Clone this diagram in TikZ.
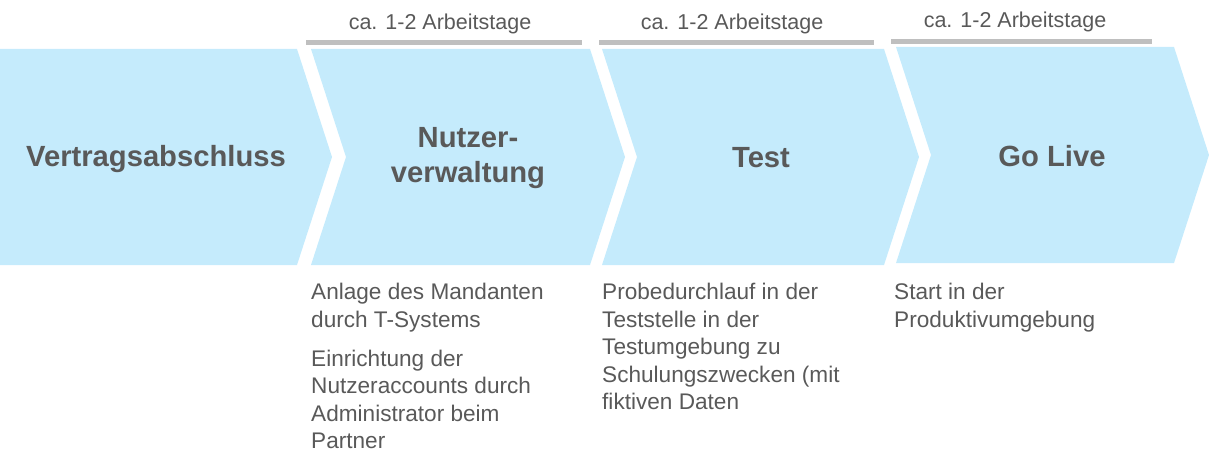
\documentclass[tikz,border=0pt]{standalone}
\usepackage{fontspec}
\setmainfont{Liberation Sans}
\usetikzlibrary{positioning}
\definecolor{chevblue}{RGB}{197,235,252}
\definecolor{textgray}{RGB}{89,89,89}
\definecolor{bargray}{RGB}{191,191,191}
\tikzset{
  chev/.style={fill=chevblue},
  phase/.style={font=\bfseries\fontsize{29.2}{35}\selectfont,text=textgray,align=center,inner sep=0pt},
  durbar/.style={draw=bargray,line width=5pt},
  dur/.style={font=\fontsize{21.5}{26}\selectfont,text=textgray,anchor=base,inner sep=0pt},
  note/.style={font=\fontsize{22.6}{27.5}\selectfont,text=textgray,align=left,anchor=north west,inner sep=0pt}
}

\begin{document}
\begin{tikzpicture}[x=1pt,y=-1pt]
\useasboundingbox (0,0) rectangle (1209,468);
% chevrons
\fill[chev] (0,49) -- (297,49) -- (332,157) -- (297,265) -- (0,265) -- cycle;
\fill[chev] (311,49) -- (590,49) -- (625,157) -- (590,265) -- (311,265) -- (346,157) -- cycle;
\fill[chev] (602,49) -- (884,49) -- (919,157) -- (884,265) -- (602,265) -- (637,157) -- cycle;
\fill[chev] (896,47) -- (1174,47) -- (1209,155) -- (1174,263) -- (896,263) -- (931,155) -- cycle;
% phase titles
\node[phase,anchor=base] (vertrag) at (156,166) {Vertragsabschluss};
\node[phase] (nutzer) at (468,158) {Nutzer-\\verwaltung};
\node[phase,anchor=base] (test) at (761,167) {Test};
\node[phase,anchor=base] (golive) at (1052,166) {Go Live};
% durations
\coordinate (b1l) at (306,43);
\coordinate (b1r) at (582,43);
\coordinate (b2l) at (599,43);
\coordinate (b2r) at (874,43);
\coordinate (b3l) at (891,42);
\coordinate (b3r) at (1152,42);
\draw[durbar] (b1l) -- (b1r);
\draw[durbar] (b2l) -- (b2r);
\draw[durbar] (b3l) -- (b3r);
\node[dur] (dur1) at (440,30) {ca. 1-2 Arbeitstage};
\node[dur] (dur2) at (732,30) {ca. 1-2 Arbeitstage};
\node[dur] (dur3) at (1015,28) {ca. 1-2 Arbeitstage};
% notes below
\node[note] (nutzernote) at (311,283) {Anlage des Mandanten\\durch T-Systems\\[11.5pt]Einrichtung der\\Nutzeraccounts durch\\Administrator beim\\Partner};
\node[note] (testnote) at (602,283) {Probedurchlauf in der\\Teststelle in der\\Testumgebung zu\\Schulungszwecken (mit\\fiktiven Daten};
\node[note] (golivenote) at (894,283) {Start in der\\Produktivumgebung};
\end{tikzpicture}
\end{document}
